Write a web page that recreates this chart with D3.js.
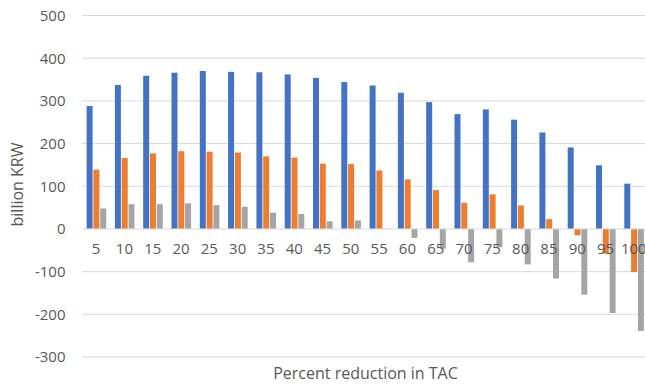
<!DOCTYPE html>
<html><head><meta charset="utf-8">
<script src="https://cdn.jsdelivr.net/npm/d3@7"></script>
<style>body{margin:0;background:#fff}svg{display:block}</style>
</head><body>
<script>
const categories = ["5","10","15","20","25","30","35","40","45","50","55","60","65","70","75","80","85","90","95","100"];
const seriesNames = ["Series1","Series2","Series3"];
const series1 = [288,337,359,366,370,368,367,362,354,344,336,319,297,269,280,256,226,191,149,106];
const series2 = [139,166,177,182,181,179,170,167,153,152,137,116,91,61,81,55,23,-15,-58,-101];
const series3 = [48,58,58,60,56,52,38,35,18,20,1,-21,-46,-78,-43,-83,-116,-154,-197,-239];
const yTicks = [-300,-200,-100,0,100,200,300,400,500];
const colors = ["#4472C4","#ED7D31","#A5A5A5"];

(function(){
const W = 645, H = 385;
const mL = 82, mR = 648, mT = 15.5, mB = 357;
const svg = d3.select("body").append("svg").attr("width", W).attr("height", H);

const y = d3.scaleLinear().domain([-300, 500]).range([mB, mT]);
const x0 = d3.scaleBand().domain(categories).range([mL, mR]).padding(0);
const x1 = d3.scaleBand().domain(seriesNames).range([4.6, 4.6 + 19.6]).paddingInner(0.12);

const font = "'Open Sans', sans-serif";
svg.append("g").selectAll("line").data(yTicks.filter(d => d !== 0)).join("line")
  .attr("x1", mL).attr("x2", W).attr("y1", d => y(d)).attr("y2", d => y(d))
  .attr("stroke", "#d9d9d9").attr("stroke-width", 1);

svg.append("g").selectAll("text").data(yTicks).join("text")
  .attr("x", 65.5).attr("y", d => y(d)).attr("dy", "0.36em")
  .attr("text-anchor", "end").attr("font-family", font).attr("font-size", 15)
  .attr("fill", "#595959").text(d => d);

const data = [series1, series2, series3];
const g = svg.append("g");
data.forEach((vals, si) => {
  g.append("g").selectAll("rect").data(vals).join("rect")
    .attr("x", (d, i) => x0(categories[i]) + x1(seriesNames[si]))
    .attr("width", x1.bandwidth())
    .attr("y", d => Math.min(y(d), y(0)))
    .attr("height", d => Math.abs(y(d) - y(0)))
    .attr("fill", colors[si]);
});

svg.append("line").attr("x1", mL).attr("x2", W).attr("y1", y(0)).attr("y2", y(0))
  .attr("stroke", "#d9d9d9").attr("stroke-width", 1);

svg.append("g").selectAll("text").data(categories).join("text")
  .attr("x", d => x0(d) + x0.bandwidth() / 2).attr("y", y(0) + 20).attr("dy", "0.36em")
  .attr("text-anchor", "middle").attr("font-family", font).attr("font-size", 15)
  .attr("fill", "#595959").text(d => d);

svg.append("text").attr("x", 365.5).attr("y", 379)
  .attr("text-anchor", "middle").attr("font-family", font).attr("font-size", 16)
  .attr("fill", "#595959").text("Percent reduction in TAC");
svg.append("text").attr("transform", "translate(23.3,184.5) rotate(-90)")
  .attr("text-anchor", "middle").attr("font-family", font).attr("font-size", 16)
  .attr("fill", "#595959").text("billion KRW");
})();
</script>
</body></html>
